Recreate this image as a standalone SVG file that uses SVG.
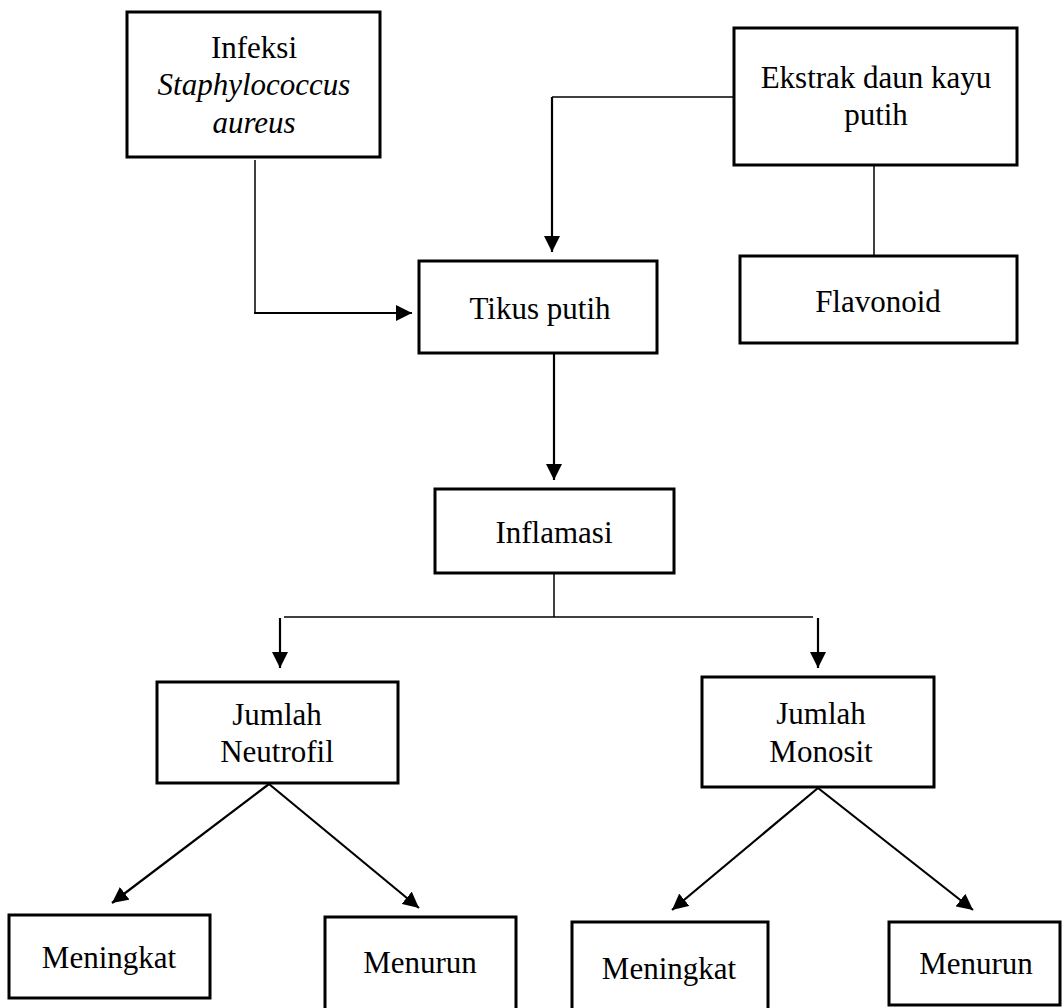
<svg xmlns="http://www.w3.org/2000/svg" width="1062" height="1008" viewBox="0 0 1062 1008">
<style>
.box{fill:#fff;stroke:#000;stroke-width:3}
.t{font-family:"Liberation Serif","Times New Roman",serif;font-size:31px;fill:#000;text-anchor:middle}
.it{font-style:italic}
.thin{fill:none;stroke:#000;stroke-width:1.5}
.arr{fill:none;stroke:#000;stroke-width:2.2;marker-end:url(#ah)}
.seg{fill:none;stroke:#000;stroke-width:2.2}
</style>
<defs>
<marker id="ah" viewBox="0 0 16 16" refX="16" refY="8" markerWidth="16" markerHeight="16" markerUnits="userSpaceOnUse" orient="auto">
<path d="M0,0 L16,8 L0,16 z" fill="#000"/>
</marker>
</defs>
<rect width="1062" height="1008" fill="#fff"/>
<g id="connectors">
<polyline class="thin" points="255,160 255,313"/>
<polyline class="arr" points="254,313 412,313"/>
<polyline class="thin" points="734,97 552,97"/>
<polyline class="arr" points="552,97 552,252"/>
<line class="thin" x1="874" y1="165" x2="874" y2="256"/>
<line class="arr" x1="554" y1="353" x2="554" y2="480"/>
<line class="thin" x1="554" y1="573" x2="554" y2="617"/>
<line class="thin" x1="284" y1="617" x2="813" y2="617"/>
<line class="arr" x1="280" y1="618" x2="280" y2="668"/>
<line class="arr" x1="818" y1="618" x2="818" y2="668"/>
<line class="arr" x1="269" y1="784" x2="112" y2="903"/>
<line class="arr" x1="269" y1="784" x2="419" y2="908"/>
<line class="arr" x1="818" y1="788" x2="672" y2="910"/>
<line class="arr" x1="818" y1="788" x2="973" y2="910"/>
</g>
<g id="infeksi">
<rect class="box" x="127" y="12" width="253" height="145"/>
<text class="t" x="254" y="58">Infeksi</text>
<text class="t it" x="254" y="95">Staphylococcus</text>
<text class="t it" x="254" y="133">aureus</text>
</g>
<g id="ekstrak">
<rect class="box" x="734" y="28" width="283" height="137"/>
<text class="t" x="876" y="88">Ekstrak daun kayu</text>
<text class="t" x="876" y="125">putih</text>
</g>
<g id="flavonoid">
<rect class="box" x="740" y="256" width="277" height="87"/>
<text class="t" x="878" y="312">Flavonoid</text>
</g>
<g id="tikus">
<rect class="box" x="419" y="261" width="238" height="92"/>
<text class="t" x="540" y="319">Tikus putih</text>
</g>
<g id="inflamasi">
<rect class="box" x="435" y="489" width="239" height="84"/>
<text class="t" x="554" y="543">Inflamasi</text>
</g>
<g id="neutrofil">
<rect class="box" x="157" y="682" width="241" height="101"/>
<text class="t" x="277" y="725">Jumlah</text>
<text class="t" x="277" y="762">Neutrofil</text>
</g>
<g id="monosit">
<rect class="box" x="702" y="677" width="232" height="110"/>
<text class="t" x="821" y="724">Jumlah</text>
<text class="t" x="821" y="762">Monosit</text>
</g>
<g id="meningkat1">
<rect class="box" x="9" y="915" width="201" height="83"/>
<text class="t" x="109" y="968">Meningkat</text>
</g>
<g id="menurun1">
<rect class="box" x="325" y="917" width="191" height="100"/>
<text class="t" x="420" y="973">Menurun</text>
</g>
<g id="meningkat2">
<rect class="box" x="572" y="922" width="196" height="100"/>
<text class="t" x="669" y="979">Meningkat</text>
</g>
<g id="menurun2">
<rect class="box" x="889" y="922" width="171" height="83"/>
<text class="t" x="976" y="974">Menurun</text>
</g>
</svg>
